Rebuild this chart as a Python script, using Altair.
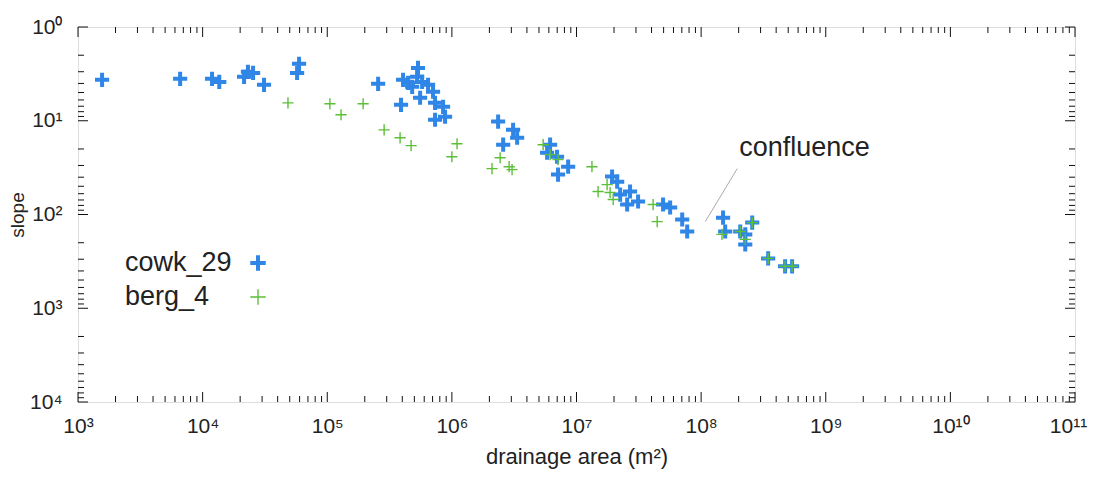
import altair as alt
import pandas as pd

# ---- data ----
cowk_area = [1.56e3, 6.6e3, 1.19e4, 1.36e4, 2.15e4, 2.31e4, 2.54e4, 3.11e4, 5.73e4, 5.94e4,
             2.56e5, 3.91e5, 4.06e5, 4.45e5, 4.80e5, 5.35e5, 5.26e5, 5.77e5, 6.44e5, 5.56e5,
             7.06e5, 7.33e5, 8.50e5, 7.33e5, 8.82e5, 2.35e6, 3.10e6, 3.34e6, 2.58e6, 6.14e6,
             5.81e6, 6.98e6, 8.57e6, 7.11e6, 1.93e7, 2.12e7, 2.24e7, 2.69e7, 3.12e7, 2.55e7,
             4.95e7, 5.64e7, 7.05e7, 7.73e7, 1.50e8, 1.56e8, 2.06e8, 2.57e8, 2.26e8, 2.26e8,
             3.45e8, 4.72e8, 5.37e8]
cowk_slope = [3.66, 3.57, 3.57, 3.85, 3.40, 3.01, 3.09, 4.14, 3.09, 2.47,
              4.04, 6.76, 3.66, 3.94, 4.35, 2.73, 3.40, 3.85, 4.14, 5.69,
              4.91, 6.44, 7.10, 9.76, 9.07, 10.2, 12.5, 15.2, 18.0, 18.0,
              21.9, 24.2, 30.9, 37.5, 39.4, 44.6, 61.3, 56.9, 72.7, 78.3,
              78.3, 84.3, 113, 152, 108, 152, 152, 122, 163, 209,
              294, 357, 357]

berg_area = [4.84e4, 1.05e5, 1.29e5, 1.94e5, 2.86e5, 3.84e5, 4.71e5, 1.10e6, 1.00e6, 2.44e6,
             2.10e6, 2.88e6, 3.04e6, 5.40e6, 6.14e6, 7.11e6, 1.33e7, 1.76e7, 1.49e7, 1.86e7,
             1.97e7, 4.12e7, 4.44e7, 1.47e8, 2.06e8, 2.57e8, 2.26e8, 3.45e8, 4.72e8, 5.37e8]
berg_slope = [6.44, 6.59, 8.63, 6.59, 12.5, 15.2, 18.4, 17.6, 24.2, 24.8,
              32.4, 30.9, 33.2, 18.0, 23.0, 26.0, 30.9, 48.0, 56.9, 58.3,
              69.2, 78.3, 119, 163, 152, 122, 184, 294, 357, 357]

series_names = ["cowk_29", "berg_4"]
series_colors = ["#2f86e6", "#5cbf38"]

annot_text = "confluence"
annot_text_area = [2.02e8]
annot_text_slope = [19.4]
annot_line_area = [1.95e8, 1.08e8]
annot_line_slope = [32.4, 119]

x_major_exp = [3, 4, 5, 6, 7, 8, 9, 10, 11]
y_major_exp = [0, 1, 2, 3, 4]
minor_mult = [2, 3, 4, 5, 6, 7, 8, 9]

# ---- layout ----
W, H = 997, 375
FONT = "Liberation Sans"
TXT = "#222222"
CROSS = "M-1,0L1,0M0,-1L0,1"

sup = ["⁰", "¹", "²", "³", "⁴", "⁵", "⁶", "⁷", "⁸", "⁹", "¹⁰", "¹¹"]
sup_arr = "[" + ",".join("'" + s + "'" for s in sup) + "]"
label_expr = "'10' + " + sup_arr + "[round(log(datum.value)/LN10)]"

x_ticks = [10.0 ** e for e in x_major_exp]
y_ticks = [10.0 ** e for e in y_major_exp]

xscale = alt.Scale(type="log", domain=[1e3, 1e11], nice=False)
yscale = alt.Scale(type="log", domain=[1, 1e4], nice=False, reverse=True)

cowk = pd.DataFrame({"area": cowk_area, "slope": cowk_slope})
berg = pd.DataFrame({"area": berg_area, "slope": berg_slope})

X = alt.X("area:Q", scale=xscale,
          axis=alt.Axis(values=x_ticks, labelExpr=label_expr, title="drainage area (m²)",
                        ticks=False, domain=False, grid=False, labelFontSize=21,
                        labelPadding=13, titleFontSize=22, titlePadding=10,
                        labelOffset={"condition": {"test": "datum.value > 5e10", "value": -7},
                                     "value": 0},
                        labelFont=FONT, titleFont=FONT, labelColor=TXT, titleColor=TXT,
                        titleFontWeight="normal", labelFlush=False))
Y = alt.Y("slope:Q", scale=yscale,
          axis=alt.Axis(values=y_ticks, labelExpr=label_expr, title="slope",
                        ticks=False, domain=False, grid=False, labelFontSize=21,
                        labelPadding=16, titleFontSize=19, titlePadding=2,
                        labelFont=FONT, titleFont=FONT, labelColor=TXT, titleColor=TXT,
                        titleFontWeight="normal", labelFlush=False))

blue = alt.Chart(cowk).mark_point(shape=CROSS, filled=False, size=200, strokeWidth=4,
                                  color=series_colors[0], opacity=1).encode(x=X, y=Y)
green = alt.Chart(berg).mark_point(shape=CROSS, filled=False, size=125, strokeWidth=1.4,
                                   color=series_colors[1], opacity=1).encode(
    x=alt.X("area:Q"), y=alt.Y("slope:Q"))

# inward ticks
xt_major = pd.DataFrame({"v": x_ticks})
xt_minor = pd.DataFrame({"v": [m * 10.0 ** e for e in x_major_exp[:-1] for m in minor_mult]})
yt_major = pd.DataFrame({"v": y_ticks})
yt_minor = pd.DataFrame({"v": [m * 10.0 ** e for e in y_major_exp[:-1] for m in minor_mult]})

tick_layers = []
for df, ln in [(xt_major, 10), (xt_minor, 6)]:
    tick_layers.append(alt.Chart(df).mark_rule(color="#111", strokeWidth=1).encode(
        x=alt.X("v:Q"), y=alt.value(H), y2=alt.value(H - ln)))
    tick_layers.append(alt.Chart(df).mark_rule(color="#111", strokeWidth=1).encode(
        x=alt.X("v:Q"), y=alt.value(0), y2=alt.value(ln)))
for df, ln in [(yt_major, 10), (yt_minor, 6)]:
    tick_layers.append(alt.Chart(df).mark_rule(color="#111", strokeWidth=1).encode(
        y=alt.Y("v:Q"), x=alt.value(0), x2=alt.value(ln)))
    tick_layers.append(alt.Chart(df).mark_rule(color="#111", strokeWidth=1).encode(
        y=alt.Y("v:Q"), x=alt.value(W), x2=alt.value(W - ln)))

# annotation
line_df = pd.DataFrame({"area": annot_line_area, "slope": annot_line_slope})
ann_line = alt.Chart(line_df).mark_line(color="#aaaaaa", strokeWidth=1).encode(
    x=alt.X("area:Q"), y=alt.Y("slope:Q"))
txt_df = pd.DataFrame({"area": annot_text_area, "slope": annot_text_slope, "t": [annot_text]})
ann_text = alt.Chart(txt_df).mark_text(align="left", baseline="middle", fontSize=27,
                                       font=FONT, color=TXT).encode(
    x=alt.X("area:Q"), y=alt.Y("slope:Q"), text="t:N")

# legend (gnuplot style: label left, symbol right)
leg = []
for i, (nm, col, sw) in enumerate(zip(series_names, series_colors, [4, 1.4])):
    yy = 236 + 34 * i
    leg.append(alt.Chart(pd.DataFrame({"name": [nm]})).mark_text(
        align="left", baseline="middle", fontSize=27, font=FONT, color=TXT).encode(
        text="name:N", x=alt.value(47), y=alt.value(yy)))
    leg.append(alt.Chart(pd.DataFrame({"name": [nm]})).mark_point(
        shape=CROSS, filled=False, size=240, strokeWidth=sw, color=col, opacity=1).encode(
        x=alt.value(180), y=alt.value(yy)))

chart = alt.layer(blue, green, *tick_layers, ann_line, ann_text, *leg).properties(
    width=W, height=H,
    padding={"left": 70, "top": 19, "right": 13, "bottom": 71},
    autosize=alt.AutoSizeParams(type="none"),
).configure_view(stroke="#111", strokeWidth=1.2).configure(background="white")

chart.save("out.html", embed_options={"renderer": "svg", "actions": False})
